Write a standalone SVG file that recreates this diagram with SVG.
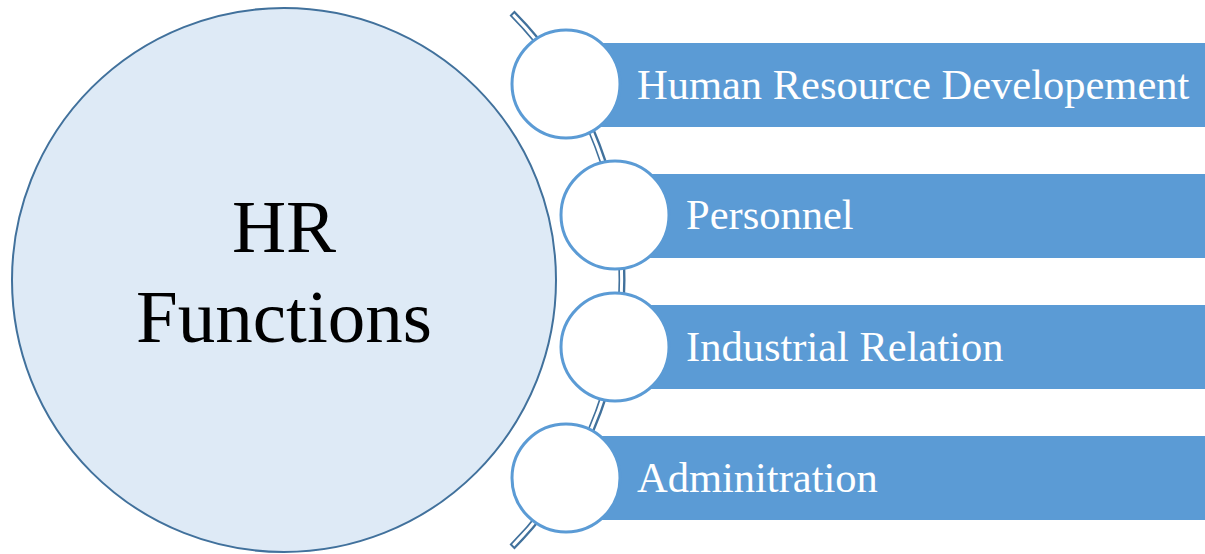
<svg xmlns="http://www.w3.org/2000/svg" width="1205" height="554" viewBox="0 0 1205 554">
<style>
.bar{fill:#5B9BD5}
.dot{fill:#FFFFFF;stroke:#5B9BD5;stroke-width:3}
.lbl{font-family:"Liberation Serif",serif;font-size:42.5px;fill:#FFFFFF}
.big{font-family:"Liberation Serif",serif;font-size:75px;fill:#000000;text-anchor:middle}
</style>
<rect width="1205" height="554" fill="#FFFFFF"/>
<g id="connectors">
<path d="M512,13 A379,379 0 0 1 512,547" fill="none" stroke="#41719C" stroke-width="7"/>
<path d="M513.2,14.6 A379,379 0 0 1 513.2,545.4" fill="none" stroke="#FFFFFF" stroke-width="3"/>
</g>
<g id="hr-functions">
<circle cx="284" cy="280" r="272" fill="#DEEAF6" stroke="#41719C" stroke-width="2"/>
<text class="big" x="284" y="252">HR</text>
<text class="big" x="284" y="342">Functions</text>
</g>
<g id="n1">
<rect class="bar" x="566" y="43" width="639" height="84"/>
<circle class="dot" cx="566" cy="84" r="54"/>
<text class="lbl" x="637" y="99">Human Resource Developement</text>
</g>
<g id="n2">
<rect class="bar" x="615" y="174" width="590" height="84"/>
<circle class="dot" cx="615" cy="215" r="54"/>
<text class="lbl" x="686" y="229">Personnel</text>
</g>
<g id="n3">
<rect class="bar" x="615" y="305" width="590" height="84"/>
<circle class="dot" cx="615" cy="347" r="54"/>
<text class="lbl" x="686" y="361">Industrial Relation</text>
</g>
<g id="n4">
<rect class="bar" x="566" y="436" width="639" height="84"/>
<circle class="dot" cx="566" cy="478" r="54"/>
<text class="lbl" x="637" y="492">Adminitration</text>
</g>
</svg>
